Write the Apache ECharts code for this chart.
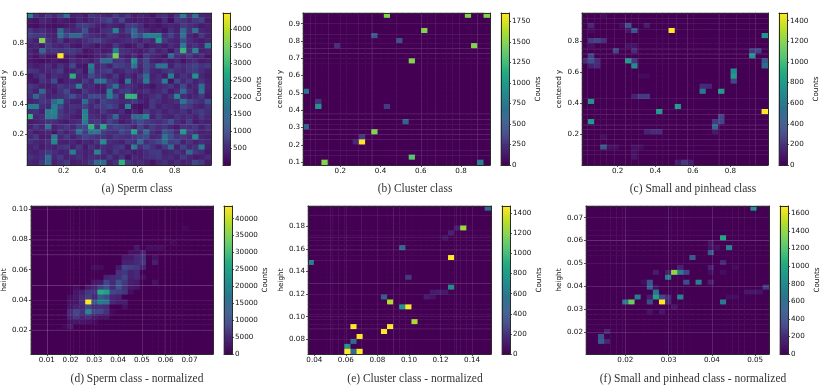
<!DOCTYPE html>
<html>
<head>
<meta charset="utf-8">
<style>html,body{margin:0;padding:0;background:#fff}#c{width:830px;height:388px;filter:blur(0.35px)}</style>
<script src="https://cdn.jsdelivr.net/npm/echarts@6/dist/echarts.min.js"></script>
</head>
<body>
<div id="c"></div>
<script>
const viridis = ['#440154','#482475','#414487','#355f8d','#2a788e','#21918c','#22a884','#44bf70','#7ad151','#bddf26','#fde725'];

/* (a) full 30×30 grid read row by row from the top, in units of 80 counts */
const spermGrid = [
[25,8,5,9,6,10,21,5,6,4,9,7,6,5,10,6,9,4,6,5,3,7,8,4,9,24,8,21,6,5],
[4,3,6,5,3,5,4,3,6,4,6,7,9,12,6,12,5,4,5,4,5,3,7,2,9,8,6,9,11,4],
[3,2,4,3,2,3,4,5,9,10,8,5,4,6,5,4,9,10,7,3,4,3,5,6,5,9,7,6,4,5],
[9,6,7,5,4,19,8,6,7,14,5,4,7,8,25,6,11,19,8,6,4,5,3,8,5,19,8,21,6,5],
[11,9,10,6,5,21,12,19,19,9,7,6,5,8,7,5,6,19,13,24,24,24,7,11,6,21,6,4,9,5],
[7,5,45,8,5,9,4,6,5,7,9,11,8,6,5,6,7,8,5,8,6,31,9,6,5,13,7,5,4,6],
[5,6,4,9,6,5,7,4,3,6,5,3,5,4,9,5,3,4,8,3,5,6,4,7,5,23,6,8,5,23],
[6,4,19,8,9,8,9,10,8,3,4,6,4,5,25,8,7,5,4,6,9,5,7,3,9,37,8,25,5,6],
[5,3,6,3,3,56,4,6,3,2,3,5,6,9,44,6,4,7,3,9,6,5,3,19,7,6,9,5,7,3],
[4,3,2,3,4,3,3,7,5,6,4,7,19,19,8,9,6,27,7,12,5,4,6,4,6,3,6,7,4,5],
[6,4,5,7,4,8,5,12,4,3,23,6,8,5,11,10,8,21,6,12,8,21,21,5,9,7,9,11,8,9],
[9,8,5,6,7,10,4,5,8,3,19,7,9,11,5,6,9,7,5,12,6,5,8,10,7,6,9,10,7,5],
[3,6,9,4,7,6,5,35,6,5,12,8,7,5,9,4,7,4,9,20,5,7,4,24,5,8,6,28,6,4],
[4,3,8,6,13,3,5,6,5,9,6,21,21,9,7,3,23,5,7,23,6,7,23,3,12,6,9,5,8,5],
[9,7,5,4,5,9,7,8,25,6,7,4,5,10,21,6,8,6,4,5,3,6,7,9,5,12,5,6,20,6],
[8,5,19,6,4,8,12,5,4,9,6,5,4,24,6,9,10,5,6,8,5,6,9,4,7,19,8,5,21,5],
[7,19,9,5,6,7,9,14,8,7,13,13,9,24,12,5,37,36,4,5,7,9,5,8,25,7,5,6,9,4],
[5,6,9,8,19,25,7,5,5,20,8,5,11,9,8,6,7,9,6,4,9,7,5,6,8,21,12,9,7,14],
[24,24,7,6,24,12,6,8,7,11,6,9,10,12,9,4,26,3,2,4,9,5,7,6,5,11,9,6,5,8],
[7,8,5,23,25,9,6,7,5,24,6,5,9,6,5,7,3,5,3,9,6,8,5,7,6,8,5,8,10,7],
[36,6,7,23,23,9,7,5,4,25,7,6,5,8,19,5,5,19,19,25,5,9,6,5,8,6,7,5,9,6],
[4,5,6,8,7,5,4,6,7,23,8,9,6,11,8,4,6,9,13,9,8,7,9,14,7,5,10,4,6,5],
[5,9,6,21,5,7,9,6,11,12,36,8,33,9,12,11,9,5,11,6,10,7,9,6,4,8,7,9,5,8],
[7,4,5,6,3,8,5,7,21,10,21,21,10,8,7,12,9,31,8,19,7,5,14,11,6,30,9,7,5,6],
[6,9,4,5,23,6,9,5,8,11,9,7,8,6,9,8,7,9,11,13,6,7,21,13,8,9,7,26,6,5],
[8,6,5,7,25,5,5,6,4,6,5,8,27,7,6,5,9,7,19,7,9,12,19,10,11,5,8,5,7,6],
[5,7,4,6,5,8,9,5,9,4,8,5,7,6,8,9,4,23,7,12,8,5,9,19,5,11,6,8,23,5],
[6,5,7,9,7,5,6,24,7,5,6,25,8,5,9,6,7,4,5,7,9,10,5,6,8,6,19,9,7,4],
[8,6,7,20,6,9,5,6,8,5,7,6,5,9,5,8,3,6,5,7,8,9,6,7,5,9,6,4,5,7],
[6,5,9,19,5,7,9,4,5,6,9,19,19,5,8,36,9,6,7,5,3,6,8,5,7,5,6,12,9,4]
];
const spermCells = spermGrid.flatMap((row, r) => row.map((v, c) => [c, r, v * 80]));

/* sparse cells: [column from left, row from top, counts]; every other bin is zero */
const clusterCells = [[13,0,1500],[26,0,1500],[29,0,1500],[19,3,1500],[11,4,500],[15,5,450],[5,6,250],[27,6,1500],[17,9,1500],[0,15,700],[2,17,280],[2,18,950],[13,18,320],[16,21,600],[0,22,600],[11,23,1500],[9,24,300],[8,25,200],[9,25,1850],[17,28,1350],[3,29,1500],[28,29,800]];
const smallCells = [[14,3,1475],[7,2,380],[8,3,400],[29,4,750],[1,5,250],[2,5,300],[3,5,200],[5,7,300],[8,7,180],[27,7,250],[28,7,280],[27,8,750],[1,8,300],[0,9,180],[1,9,350],[2,9,180],[7,9,800],[8,9,250],[1,10,130],[2,10,170],[8,10,700],[29,9,400],[29,10,500],[24,11,700],[24,12,800],[24,13,300],[19,14,180],[20,14,150],[19,15,600],[22,15,800],[8,16,130],[9,16,250],[10,16,250],[1,17,750],[15,18,800],[12,19,800],[29,19,1475],[22,20,300],[21,21,250],[22,21,300],[1,21,800],[21,22,500],[10,23,130],[11,23,180],[12,23,180],[21,23,100],[3,26,420],[15,29,100],[16,29,250],[17,29,120],[3,0,50],[1,2,150],[10,2,120],[6,2,60],[7,3,80],[1,3,40],[8,6,80],[7,6,70],[1,6,60],[9,12,40],[10,12,40],[3,24,60],[4,26,70],[5,26,60],[8,26,70],[9,26,50],[8,28,90],[8,27,70]];
const spermNormCells = [[17,8,3000],[19,8,1500],[20,8,1500],[21,8,1500],[16,9,2000],[17,9,2000],[18,9,4000],[15,10,3000],[16,10,3000],[17,10,5000],[18,10,6000],[20,10,2000],[15,11,4000],[16,11,4000],[17,11,5000],[18,11,7000],[20,11,3500],[10,12,1500],[11,12,1500],[14,12,3000],[15,12,9000],[16,12,8000],[17,12,7000],[18,12,4000],[14,13,6000],[15,13,7000],[16,13,4000],[17,13,5000],[12,14,4000],[13,14,5000],[14,14,6000],[15,14,9000],[16,14,4000],[17,14,5000],[18,14,1500],[10,15,2500],[11,15,3000],[12,15,9000],[13,15,5000],[14,15,11000],[15,15,7000],[16,15,3500],[17,15,3000],[20,15,2000],[7,16,1500],[9,16,3000],[10,16,4000],[11,16,8000],[12,16,11000],[13,16,5000],[14,16,11000],[15,16,6000],[16,16,3000],[17,16,2500],[7,17,2500],[8,17,3500],[9,17,7000],[10,17,7000],[11,17,27000],[12,17,25000],[13,17,9000],[14,17,8000],[15,17,7000],[16,17,1500],[6,18,1500],[7,18,3000],[8,18,5000],[9,18,8000],[10,18,4500],[11,18,13000],[12,18,10000],[13,18,4500],[14,18,4000],[6,19,2000],[7,19,2500],[8,19,5000],[9,19,43750],[10,19,12000],[11,19,18000],[12,19,17000],[13,19,4500],[14,19,3500],[15,19,3500],[6,20,2500],[7,20,4000],[8,20,4500],[9,20,9000],[10,20,5000],[11,20,6000],[12,20,5000],[15,20,2000],[6,21,5000],[7,21,9000],[8,21,6000],[9,21,20000],[10,21,9000],[11,21,9000],[12,21,6000],[13,21,1000],[6,22,4000],[7,22,7000],[8,22,4000],[9,22,5500],[10,22,3000],[11,22,2500],[12,22,2500],[6,23,2000],[7,23,2500],[8,23,2500],[9,23,2000],[10,23,1000],[5,24,800],[6,24,3000],[25,4,1000],[23,7,1000],[22,6,500]];
const clusterNormCells = [[29,0,500],[25,4,1250],[24,4,120],[23,5,130],[22,6,80],[15,8,500],[23,10,1472],[0,11,650],[16,14,250],[23,16,700],[20,17,100],[21,17,120],[22,17,100],[12,18,450],[19,18,110],[20,18,80],[13,19,1300],[15,20,750],[16,20,1472],[17,23,1280],[7,24,1472],[13,24,1472],[12,25,1472],[8,26,1472],[7,27,500],[6,28,750],[6,29,1472],[7,29,500],[8,29,1472]];
const smallNormCells = [[27,0,850],[22,6,1000],[23,8,750],[20,9,480],[17,10,500],[22,11,200],[20,12,150],[20,7,100],[14,13,1400],[15,13,700],[16,13,350],[15,12,150],[13,14,700],[11,13,130],[13,13,120],[10,15,450],[16,15,400],[18,15,750],[20,15,150],[10,16,500],[29,16,280],[11,17,650],[26,17,100],[27,17,100],[28,17,90],[8,18,700],[11,18,950],[12,18,350],[13,18,200],[15,18,750],[10,18,130],[6,19,650],[7,19,1300],[10,19,400],[12,19,1683],[13,19,170],[22,19,680],[14,20,100],[10,21,80],[12,21,100],[3,25,170],[2,26,450],[2,27,480],[3,27,170],[20,8,90],[21,8,70],[22,13,60],[20,13,60],[23,18,60],[24,18,60],[11,16,70],[9,15,60],[24,12,50]];

/* bin edges where the reference shows its faint seams */
const seamsA = {x:[3,7,9,12,17], y:[1,2,4,8,9,22,23,25]};
const seamsB = {x:[1,4,9,11,19,21,25,28], y:[2,4,7,8,20,21,23,24,25,27,28]};
const seamsC = {x:[1,4,5,7,9,14,15,17,22,25,28], y:[1,2,3,7,8,9,17,19,20,22,23,25,26,27,28]};
const seamsD = {x:[2,3,4,6,11,17,20,23], y:[2,8,9,10,15,16,17,18,23,24,26]};
const seamsE = {x:[3,5,8,12,14,21,24,28], y:[2,7,8,10,15,16,17,23,24,26]};
const seamsF = {x:[4,6,12,16,19,22,26], y:[2,8,9,10,17,18,23,24,25]};

/* axis ranges and ticks */
const xTicksABC = [0.2,0.4,0.6,0.8];
const yTicksB = [0.1,0.2,0.3,0.4,0.5,0.6,0.7,0.8,0.9];
const xTicksD = [0.01,0.02,0.03,0.04,0.05,0.06,0.07];
const yTicksD = [0.02,0.04,0.06,0.08,0.10];
const xTicksE = [0.04,0.06,0.08,0.10,0.12,0.14];
const yTicksE = [0.08,0.10,0.12,0.14,0.16,0.18];
const xTicksF = [0.02,0.03,0.04,0.05];
const yTicksF = [0.02,0.03,0.04,0.05,0.06,0.07];
const cbTicksA = [500,1000,1500,2000,2500,3000,3500,4000];
const cbTicksB = [0,250,500,750,1000,1250,1500,1750];
const cbTicksC = [0,200,400,600,800,1000,1200,1400];
const cbTicksD = [0,5000,10000,15000,20000,25000,30000,35000,40000];
const cbTicksE = [0,200,400,600,800,1000,1200,1400];
const cbTicksF = [0,200,400,600,800,1000,1200,1400,1600];

const panels = [
 {caption:'(a) Sperm class', capX:132, capY:178, box:[25,13,186,152], cb:[223,7], xr:[0.002,0.996], yr:[0,1.0], xt:xTicksABC, yt:xTicksABC, dec:[1,1], yName:'centered y', cells:spermCells, seams:seamsA, cr:[0,4470], cbt:cbTicksA},
 {caption:'(b) Cluster class', capX:410, capY:178, box:[303,13,187,152], cb:[501,8], xr:[0.0144,0.944], yr:[0.083,0.962], xt:xTicksABC, yt:yTicksB, dec:[1,1], yName:'centered y', cells:clusterCells, seams:seamsB, cr:[0,1850], cbt:cbTicksB},
 {caption:'(c) Small and pinhead class', capX:688, capY:178, box:[582,13,186,152], cb:[779,8], xr:[0.01,1.0], yr:[0.002,0.983], xt:xTicksABC, yt:xTicksABC, dec:[1,1], yName:'centered y', cells:smallCells, seams:seamsC, cr:[0,1475], cbt:cbTicksC},
 {caption:'(d) Sperm class - normalized', capX:132, capY:368, box:[30,206,183,148], cb:[224,8], xr:[0.0033,0.0799], yr:[0.0041,0.1022], xt:xTicksD, yt:yTicksD, dec:[2,2], yName:'height', cells:spermNormCells, seams:seamsD, cr:[0,43750], cbt:cbTicksD},
 {caption:'(e) Cluster class - normalized', capX:410, capY:368, box:[308,206,183,148], cb:[502,8], xr:[0.036,0.152], yr:[0.067,0.198], xt:xTicksE, yt:yTicksE, dec:[2,2], yName:'height', cells:clusterNormCells, seams:seamsE, cr:[0,1472], cbt:cbTicksE},
 {caption:'(f) Small and pinhead class - normalized', capX:688, capY:368, box:[586,206,183,148], cb:[780,8], xr:[0.0109,0.0532], yr:[0.0105,0.0751], xt:xTicksF, yt:yTicksF, dec:[2,2], yName:'height', cells:smallNormCells, seams:seamsF, cr:[0,1683], cbt:cbTicksF}
];

const BINS = 30, CB_ROWS = 150, INK = '#2b2b2b', TEXT = '#111';
const labelFont = {fontFamily:'DejaVu Sans', fontSize:7.2, color:TEXT};
const binNames = Array.from({length:BINS}, (_, i) => i);
const option = {animation:false, backgroundColor:'#fff', grid:[], xAxis:[], yAxis:[], series:[], visualMap:[], title:[]};

function frameLine(){ return {show:true, onZero:false, lineStyle:{color:INK, width:1}}; }
function catAxis(names, position, inverse){
  return {type:'category', data:names, position, inverse:!!inverse, z:6, silent:true,
          axisLine:frameLine(), axisTick:{show:false}, axisLabel:{show:false}, splitLine:{show:false}, splitArea:{show:false}};
}
function valAxis(range, ticks, dec, position, name, gap){
  const a = {type:'value', min:range[0], max:range[1], position, z:6, silent:true, scale:true,
    axisLine:frameLine(), splitLine:{show:false},
    axisTick:{show:!!ticks, length:2, lineStyle:{color:INK, width:0.8}, customValues:ticks||undefined},
    axisLabel:ticks ? Object.assign({show:true, margin:3, hideOverlap:false, customValues:ticks, formatter:v => Number(v).toFixed(dec)}, labelFont) : {show:false}};
  if(name){ a.name = name; a.nameLocation = 'middle'; a.nameGap = gap; a.nameTextStyle = labelFont; }
  return a;
}

panels.forEach((p, i) => {
  const [l,t,w,h] = p.box;
  const g = option.grid.length;
  option.grid.push({left:l, top:t, width:w, height:h, containLabel:false});
  const ax = option.xAxis.length, ay = option.yAxis.length;
  option.xAxis.push(Object.assign(catAxis(binNames,'top'), {gridIndex:g}));
  option.yAxis.push(Object.assign(catAxis(binNames,'right',true), {gridIndex:g}));
  option.xAxis.push(Object.assign(valAxis(p.xr,p.xt,p.dec[0],'bottom'), {gridIndex:g}));
  option.yAxis.push(Object.assign(valAxis(p.yr,p.yt,p.dec[1],'left',p.yName,p.dec[1]===2?22:19), {gridIndex:g}));

  const known = new Map(p.cells.map(c => [c[0]+','+c[1], c[2]]));
  const data = [];
  for(let r=0;r<BINS;r++) for(let c=0;c<BINS;c++) data.push([c,r,known.get(c+','+r)||0]);
  const heatIdx = option.series.length;
  option.series.push({type:'heatmap', xAxisIndex:ax, yAxisIndex:ay, data, progressive:0, silent:true, z:2, emphasis:{disabled:true}});

  const sx = p.seams.x.map(e => ({xAxis:p.xr[0]+e*(p.xr[1]-p.xr[0])/BINS}));
  const sy = p.seams.y.map(e => ({yAxis:p.yr[1]-e*(p.yr[1]-p.yr[0])/BINS}));
  option.series.push({type:'line', xAxisIndex:ax+1, yAxisIndex:ay+1, data:[], silent:true, z:3,
    markLine:{silent:true, symbol:'none', animation:false, label:{show:false}, z:3,
      lineStyle:{color:'rgba(255,255,255,0.07)', width:1, type:'solid'}, data:sx.concat(sy)}});

  const cg = option.grid.length;
  option.grid.push({left:p.cb[0], top:t, width:p.cb[1], height:h, containLabel:false});
  const cx = option.xAxis.length, cy = option.yAxis.length;
  const rows = Array.from({length:CB_ROWS}, (_, k) => k);
  option.xAxis.push(Object.assign(catAxis(['c'],'top'), {gridIndex:cg}));
  option.yAxis.push(Object.assign(catAxis(rows,'left'), {gridIndex:cg}));
  option.xAxis.push(Object.assign(valAxis([0,1],null,0,'bottom'), {gridIndex:cg}));
  const gap = p.cbt[p.cbt.length-1] >= 10000 ? 29 : 26;
  option.yAxis.push(Object.assign(valAxis(p.cr,p.cbt,0,'right','Counts',gap), {gridIndex:cg}));
  const barIdx = option.series.length;
  option.series.push({type:'heatmap', xAxisIndex:cx, yAxisIndex:cy, silent:true, progressive:0, z:2, emphasis:{disabled:true},
    data:rows.map(k => [0,k,p.cr[0]+(k+0.5)/CB_ROWS*(p.cr[1]-p.cr[0])])});

  option.visualMap.push({type:'continuous', show:false, min:p.cr[0], max:p.cr[1], dimension:2, seriesIndex:[heatIdx,barIdx], inRange:{color:viridis}});
  option.title.push({text:p.caption, left:p.capX, top:p.capY, textAlign:'center',
    textStyle:{fontFamily:'Liberation Serif', fontSize:11.5, fontWeight:'normal', color:'#333'}});
});

const chart = echarts.init(document.getElementById('c'), null, {renderer:'canvas', width:830, height:388});
chart.setOption(option);
</script>
</body>
</html>
